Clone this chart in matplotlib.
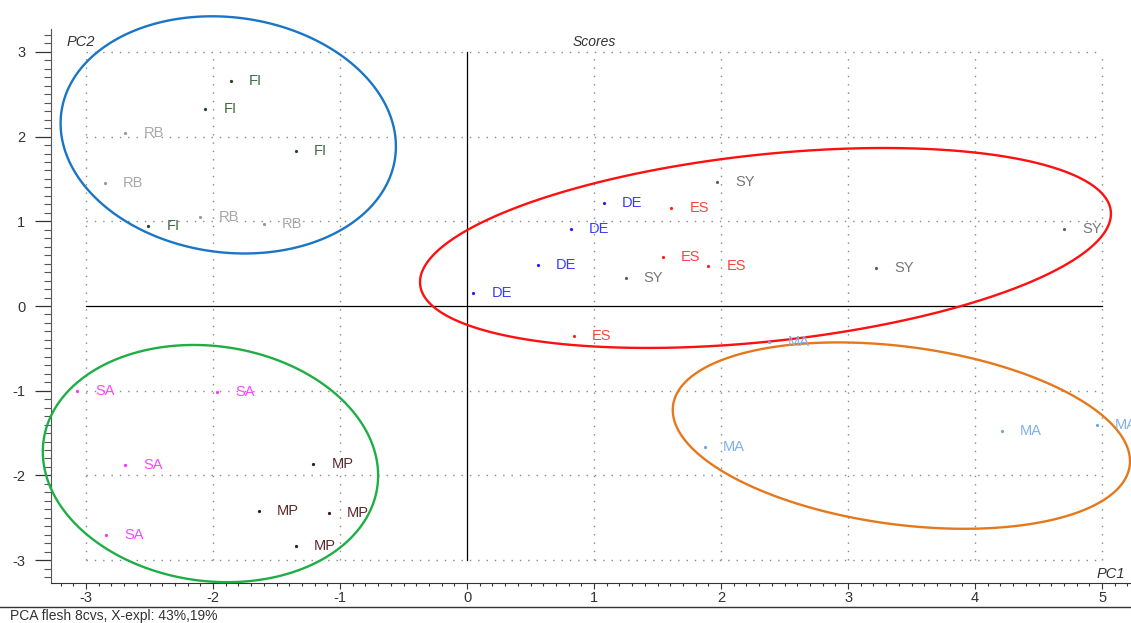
import numpy as np
import matplotlib
matplotlib.use("Agg")
import matplotlib.pyplot as plt
from matplotlib.lines import Line2D
from matplotlib.patches import Polygon
from matplotlib.ticker import MultipleLocator

plt.rcParams["font.family"] = ["Liberation Sans", "DejaVu Sans"]
plt.rcParams["axes.unicode_minus"] = False

# PCA scores (PC1, PC2) per sample group
groups = ["FI", "RB", "SA", "MP", "DE", "ES", "SY", "MA"]
pc1 = {
    "FI": [-1.86, -2.06, -1.35, -2.51],
    "RB": [-2.69, -2.85, -2.10, -1.60],
    "SA": [-3.07, -1.97, -2.69, -2.84],
    "MP": [-1.21, -1.64, -1.09, -1.35],
    "DE": [1.08, 0.82, 0.56, 0.05],
    "ES": [1.61, 1.54, 1.90, 0.84],
    "SY": [1.97, 1.25, 3.22, 4.70],
    "MA": [2.38, 1.87, 4.21, 4.96],
}
pc2 = {
    "FI": [2.66, 2.33, 1.83, 0.94],
    "RB": [2.04, 1.45, 1.05, 0.97],
    "SA": [-1.00, -1.02, -1.88, -2.70],
    "MP": [-1.86, -2.42, -2.44, -2.83],
    "DE": [1.22, 0.91, 0.48, 0.15],
    "ES": [1.16, 0.58, 0.47, -0.35],
    "SY": [1.46, 0.33, 0.45, 0.91],
    "MA": [-0.43, -1.67, -1.48, -1.41],
}
point_colors = {
    "FI": "#1f4a1f", "RB": "#9a9a9a", "SA": "#ff30ff", "MP": "#3a1616",
    "DE": "#2020ff", "ES": "#ff2020", "SY": "#606060", "MA": "#6fa6ea",
}
label_colors = {
    "FI": "#3d6b3d", "RB": "#a8a8a8", "SA": "#ff44ff", "MP": "#5a2a2a",
    "DE": "#3b3bff", "ES": "#ff4040", "SY": "#777777", "MA": "#7eb0ee",
}

# group ellipses: centre, half width, half height, tilt term
ell_cx = [-1.88, -2.02, 2.35, 3.42]
ell_cy = [2.02, -1.86, 0.685, -1.53]
ell_rx = [1.32, 1.32, 2.72, 1.80]
ell_ry = [1.40, 1.40, 1.18, 1.10]
ell_r = [-0.097, -0.10, 0.342, -0.275]
ell_colors = ["#1a75c4", "#1fae46", "#ff1010", "#e6781c"]

fig = plt.figure(figsize=(11.31, 6.23), dpi=100)
ax = fig.add_axes([51 / 1131, 1 - 583 / 623, 1 - 51 / 1131, (583 - 29) / 623])
ax.set_xlim(-3.2756, 5.228)
ax.set_ylim(-3.27, 3.27)

for s in ["top", "right"]:
    ax.spines[s].set_visible(False)
ax.spines["left"].set_color("#555555")
ax.spines["bottom"].set_color("#333333")

ax.xaxis.set_major_locator(MultipleLocator(1))
ax.xaxis.set_minor_locator(MultipleLocator(0.1))
ax.yaxis.set_major_locator(MultipleLocator(1))
ax.yaxis.set_minor_locator(MultipleLocator(0.1))
ax.tick_params(axis="x", which="major", length=4.5, width=0.8, color="#333333",
               labelsize=10.5, labelcolor="#333333", pad=1.5)
ax.tick_params(axis="x", which="minor", length=2, width=0.8, color="#333333")
ax.tick_params(axis="y", which="major", length=11.5, width=0.9, color="#333333",
               labelsize=10.5, labelcolor="#333333", pad=7)
ax.tick_params(axis="y", which="minor", length=5, width=0.8, color="#555555")

# dotted grid limited to the score range
grid_kw = dict(color="#888888", linewidth=1.0, linestyle=(0, (1, 5)), zorder=1)
for gx in [-3, -2, -1, 1, 2, 3, 4, 5]:
    ax.plot([gx, gx], [-3, 3], **grid_kw)
for gy in [-3, -2, -1, 1, 2, 3]:
    ax.plot([-3, 5], [gy, gy], **grid_kw)
ax.plot([-3, 5], [0, 0], color="black", linewidth=0.9, zorder=2)
ax.plot([0, 0], [-3, 3], color="black", linewidth=0.9, zorder=2)

t = np.linspace(0, 2 * np.pi, 400, endpoint=False)
for cx, cy, rx, ry, r, c in zip(ell_cx, ell_cy, ell_rx, ell_ry, ell_r, ell_colors):
    cov = np.array([[rx ** 2, r * rx * ry], [r * rx * ry, ry ** 2]])
    L = np.linalg.cholesky(cov)
    pts = L @ np.vstack([np.cos(t), np.sin(t)])
    xy = np.column_stack([cx + pts[0], cy + pts[1]])
    ax.add_patch(Polygon(xy, closed=True, fill=False, edgecolor=c,
                         linewidth=1.7, zorder=4, clip_on=False))

for g in groups:
    ax.plot(pc1[g], pc2[g], linestyle="none", marker="o", markersize=1.3,
            color=point_colors[g], zorder=5, clip_on=False)
    for x, y in zip(pc1[g], pc2[g]):
        ax.annotate(g, (x, y), xytext=(13, 0), textcoords="offset points",
                    va="center", ha="left", fontsize=10.5,
                    color=label_colors[g], zorder=6, annotation_clip=False)

ax.text(-3.04, 3.12, "PC2", fontsize=10.5, style="italic", color="#333333",
        ha="center", va="center")
ax.text(1.0, 3.12, "Scores", fontsize=10, style="italic", color="#333333",
        ha="center", va="center")
ax.text(5.07, -3.16, "PC1", fontsize=10.5, style="italic", color="#333333",
        ha="center", va="center")

fig.add_artist(Line2D([0, 1], [1 - 607 / 623, 1 - 607 / 623],
                      color="#333333", linewidth=1.0))
fig.text(10 / 1131, 1 - 616 / 623, "PCA flesh 8cvs, X-expl: 43%,19%",
         fontsize=10, color="#333333", ha="left", va="center")

fig.savefig("out.png", dpi=100)
